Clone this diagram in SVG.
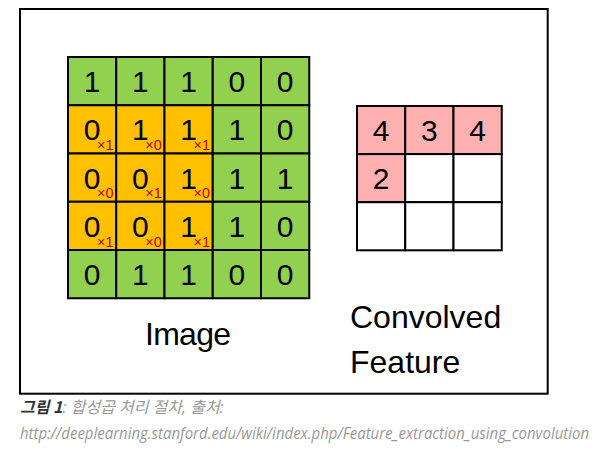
<svg xmlns="http://www.w3.org/2000/svg" width="609" height="450" viewBox="0 0 609 450">
  <style>
    .g { fill: #92D050; stroke: #000; stroke-width: 2; }
    .o { fill: #FFC000; stroke: #000; stroke-width: 2; }
    .p { fill: #FFB0B0; stroke: #000; stroke-width: 2; }
    .w { fill: #FFFFFF; stroke: #000; stroke-width: 2; }
    .d { font-family: "Liberation Sans", Arial, sans-serif; font-size: 30px; fill: #000; text-anchor: middle; }
    .s { font-family: "Liberation Sans", Arial, sans-serif; font-size: 14.5px; fill: #C00000; text-anchor: end; }
    .lbl { font-family: "Liberation Sans", Arial, sans-serif; font-size: 32px; fill: #000; }
  </style>
  <rect x="0" y="0" width="609" height="450" fill="#fff"/>
  <rect id="frame" x="20" y="9" width="527.7" height="384.7" fill="#fff" stroke="#000" stroke-width="2"/>

  <g id="image-grid">
    <rect class="g" x="68" y="57" width="48.25" height="48.25"/>
    <rect class="g" x="116.25" y="57" width="48.25" height="48.25"/>
    <rect class="g" x="164.5" y="57" width="48.25" height="48.25"/>
    <rect class="g" x="212.75" y="57" width="48.25" height="48.25"/>
    <rect class="g" x="261" y="57" width="48.25" height="48.25"/>
    <rect class="o" x="68" y="105.25" width="48.25" height="48.25"/>
    <rect class="o" x="116.25" y="105.25" width="48.25" height="48.25"/>
    <rect class="o" x="164.5" y="105.25" width="48.25" height="48.25"/>
    <rect class="g" x="212.75" y="105.25" width="48.25" height="48.25"/>
    <rect class="g" x="261" y="105.25" width="48.25" height="48.25"/>
    <rect class="o" x="68" y="153.5" width="48.25" height="48.25"/>
    <rect class="o" x="116.25" y="153.5" width="48.25" height="48.25"/>
    <rect class="o" x="164.5" y="153.5" width="48.25" height="48.25"/>
    <rect class="g" x="212.75" y="153.5" width="48.25" height="48.25"/>
    <rect class="g" x="261" y="153.5" width="48.25" height="48.25"/>
    <rect class="o" x="68" y="201.75" width="48.25" height="48.25"/>
    <rect class="o" x="116.25" y="201.75" width="48.25" height="48.25"/>
    <rect class="o" x="164.5" y="201.75" width="48.25" height="48.25"/>
    <rect class="g" x="212.75" y="201.75" width="48.25" height="48.25"/>
    <rect class="g" x="261" y="201.75" width="48.25" height="48.25"/>
    <rect class="g" x="68" y="250" width="48.25" height="48.25"/>
    <rect class="g" x="116.25" y="250" width="48.25" height="48.25"/>
    <rect class="g" x="164.5" y="250" width="48.25" height="48.25"/>
    <rect class="g" x="212.75" y="250" width="48.25" height="48.25"/>
    <rect class="g" x="261" y="250" width="48.25" height="48.25"/>

    <text class="d" x="92.1" y="92">1</text>
    <text class="d" x="140.4" y="92">1</text>
    <text class="d" x="188.6" y="92">1</text>
    <text class="d" x="236.9" y="92">0</text>
    <text class="d" x="285.1" y="92">0</text>

    <text class="d" x="92.1" y="140.3">0</text>
    <text class="d" x="140.4" y="140.3">1</text>
    <text class="d" x="188.6" y="140.3">1</text>
    <text class="d" x="236.9" y="140.3">1</text>
    <text class="d" x="285.1" y="140.3">0</text>

    <text class="d" x="92.1" y="188.5">0</text>
    <text class="d" x="140.4" y="188.5">0</text>
    <text class="d" x="188.6" y="188.5">1</text>
    <text class="d" x="236.9" y="188.5">1</text>
    <text class="d" x="285.1" y="188.5">1</text>

    <text class="d" x="92.1" y="236.8">0</text>
    <text class="d" x="140.4" y="236.8">0</text>
    <text class="d" x="188.6" y="236.8">1</text>
    <text class="d" x="236.9" y="236.8">1</text>
    <text class="d" x="285.1" y="236.8">0</text>

    <text class="d" x="92.1" y="285">0</text>
    <text class="d" x="140.4" y="285">1</text>
    <text class="d" x="188.6" y="285">1</text>
    <text class="d" x="236.9" y="285">0</text>
    <text class="d" x="285.1" y="285">0</text>

    <text class="s" x="113.5" y="150">×1</text>
    <text class="s" x="161.8" y="150">×0</text>
    <text class="s" x="210" y="150">×1</text>
    <text class="s" x="113.5" y="198.2">×0</text>
    <text class="s" x="161.8" y="198.2">×1</text>
    <text class="s" x="210" y="198.2">×0</text>
    <text class="s" x="113.5" y="246.5">×1</text>
    <text class="s" x="161.8" y="246.5">×0</text>
    <text class="s" x="210" y="246.5">×1</text>
  </g>

  <g id="feature-grid">
    <rect class="p" x="357" y="106" width="48.25" height="48.1"/>
    <rect class="p" x="405.25" y="106" width="48.25" height="48.1"/>
    <rect class="p" x="453.5" y="106" width="48.25" height="48.1"/>
    <rect class="p" x="357" y="154.1" width="48.25" height="48.1"/>
    <rect class="w" x="405.25" y="154.1" width="48.25" height="48.1"/>
    <rect class="w" x="453.5" y="154.1" width="48.25" height="48.1"/>
    <rect class="w" x="357" y="202.2" width="48.25" height="48.1"/>
    <rect class="w" x="405.25" y="202.2" width="48.25" height="48.1"/>
    <rect class="w" x="453.5" y="202.2" width="48.25" height="48.1"/>
    <text class="d" x="381.1" y="141">4</text>
    <text class="d" x="429.4" y="141">3</text>
    <text class="d" x="477.6" y="141">4</text>
    <text class="d" x="381.1" y="189">2</text>
  </g>

  <g id="labels">
    <text class="lbl" x="145" y="345" textLength="86">Image</text>
    <text class="lbl" x="350" y="328">Convolved</text>
    <text class="lbl" x="350" y="373">Feature</text>
  </g>

  <g id="caption">
    <text x="20" y="413" font-family="'Open Sans', 'Noto Sans CJK KR', sans-serif" font-size="16" font-style="italic"><tspan font-weight="bold" fill="#333" font-family="'Noto Sans CJK KR', sans-serif">그림 1</tspan><tspan fill="#999">: 합성곱 처리 절차, 출처:</tspan></text>
    <text x="20" y="439" font-family="'Open Sans', sans-serif" font-size="16" font-style="italic" fill="#999" textLength="569" lengthAdjust="spacingAndGlyphs">http://deeplearning.stanford.edu/wiki/index.php/Feature_extraction_using_convolution</text>
  </g>
</svg>
